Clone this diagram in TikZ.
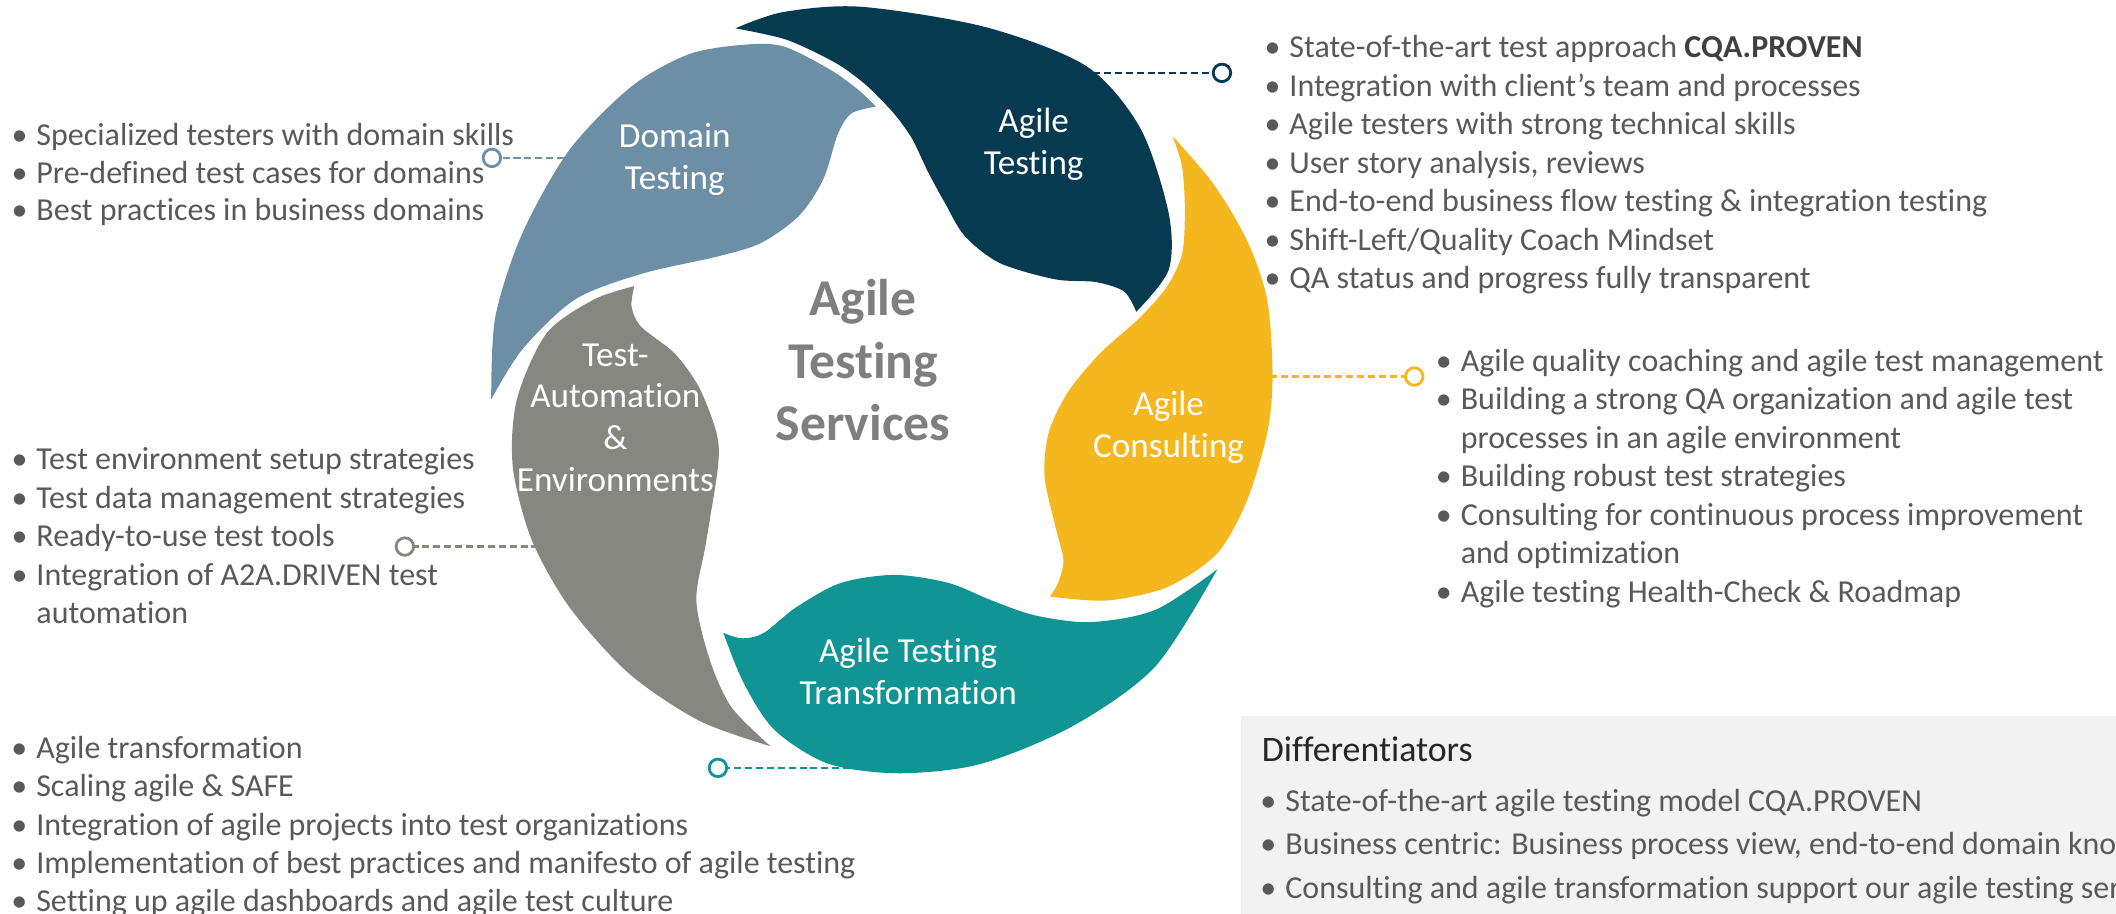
\documentclass[tikz,border=0pt]{standalone}
\usepackage{fontspec}
\setmainfont[Ligatures=NoCommon]{Carlito}
\definecolor{navyc}{HTML}{053A51}
\definecolor{bluec}{HTML}{6C8FA5}
\definecolor{grayc}{HTML}{868780}
\definecolor{yellowc}{HTML}{F5B71E}
\definecolor{tealc}{HTML}{109494}
\definecolor{txt}{HTML}{595959}
\definecolor{midgray}{HTML}{7F7F7F}
\definecolor{boxgray}{HTML}{F2F2F2}
\newcommand\bul{\llap{\textbullet\hspace{0.9mm}}}

\begin{document}
\begin{tikzpicture}[x=0.13495mm,y=-0.13495mm,
    leaf/.style={text=white,align=center,font=\fontsize{10}{11.9}\selectfont},
    list/.style={anchor=base west,inner sep=0,align=left,text=txt,font=\fontsize{9.1}{10.95}\selectfont},
    dot/.style={circle,draw,fill=white,line width=0.8pt,minimum size=1.75mm,inner sep=0},
    link/.style={line width=0.7pt,dash pattern=on 2pt off 1.1pt}]
    \useasboundingbox (0,0) rectangle (1568,677);
    \clip (0,0) rectangle (1568,677);

    % the five leaves
    \fill[navyc] plot[smooth] coordinates {(545,21) (580,9) (638,5) (730,20) (805,49) (845,95) (866,158) (866,200) (842,231)}
      -- plot[smooth] coordinates {(842,231) (833,216) (812,209) (782,207) (741,195) (715,175) (700,150) (688,128) (676,103) (664,86) (654,75) (640,61.5) (619,46.5) (583,29.5) (545,21)} -- cycle;
    \fill[bluec] plot[smooth] coordinates {(649,79) (636,66.5) (615,51.5) (581,34.5) (553,33) (511,40) (468,64) (422,111) (387,173) (367,235) (364,296)}
      -- plot[smooth] coordinates {(364,296) (387,259) (426,222) (475,203) (532,190) (564,180) (592,160) (610,133) (621,99) (631,84) (649,79)} -- cycle;
    \fill[grayc] plot[smooth] coordinates {(470,212) (440,222) (405,247) (383,296) (380,346) (394,400) (422,450) (466,499) (518,534) (571,553)}
      -- plot[smooth] coordinates {(571,553) (542,524) (526,489) (516,445) (523,403) (532,346) (531,321) (518,287) (500,262) (475,242) (468,227) (470,212)} -- cycle;
    \fill[tealc] plot[smooth] coordinates {(536,469) (550,473) (566,469) (590,450) (623,432) (663,426) (703,432) (735,445) (767,456) (808,461) (856,452) (902,422)}
      -- plot[smooth] coordinates {(902,422) (856,494) (795,538) (727,566) (667,573) (614,566) (574,541) (551,506) (536,469)} -- cycle;
    \fill[yellowc] plot[smooth] coordinates {(869,101) (899,136) (924,178) (939,222) (943,279) (939,321) (924,371) (902,410) (865,435) (820,445) (778,442)}
      -- plot[smooth] coordinates {(778,442) (784,432) (788,415) (782,390) (774,353) (777,321) (791,291) (815,262) (845,235) (865,212) (876,188) (878,156) (876,124) (869,101)} -- cycle;

    \node[leaf] (domain) at (500,118) {Domain\\Testing};
    \node[leaf] (agiletesting) at (766,107) {Agile\\Testing};
    \node[leaf] (consulting) at (866,316.5) {Agile\\Consulting};
    \node[leaf] (transformation) at (673,497.5) {Agile Testing\\Transformation};
    \node[leaf] (automation) at (456,309.5) {Test-\\Automation\\\&\\Environments};
    \node[text=midgray,align=center,font=\bfseries\fontsize{14.7}{17.8}\selectfont] (services) at (639.5,267) {Agile\\Testing\\Services};

    % connectors
    \coordinate (navyedge) at (810,54);
    \coordinate (blueedge) at (418,117);
    \coordinate (grayedge) at (399,405);
    \coordinate (yellowedge) at (941,279);
    \coordinate (tealedge) at (630,569);
    \node[dot,draw=navyc] (navydot) at (905.5,54) {};
    \node[dot,draw=bluec] (bluedot) at (364.5,117) {};
    \node[dot,draw=grayc] (graydot) at (300,405) {};
    \node[dot,draw=yellowc] (yellowdot) at (1048,279) {};
    \node[dot,draw=tealc] (tealdot) at (532,569) {};
    \draw[link,navyc] (navyedge) -- (navydot);
    \draw[link,bluec] (blueedge) -- (bluedot);
    \draw[link,grayc] (grayedge) -- (graydot);
    \draw[link,yellowc] (yellowedge) -- (yellowdot);
    \draw[link,tealc] (tealedge) -- (tealdot);

    % lists (base = last line)
    \node[list,font=\fontsize{9.1}{10.7}\selectfont] (domainlist) at (26.5,163.5) {\bul Specialized testers with domain skills\\ \bul Pre-defined test cases for domains\\ \bul Best practices in business domains};
    \node[list] (automationlist) at (26.5,462.3) {\bul Test environment setup strategies\\ \bul Test data management strategies\\ \bul Ready-to-use test tools\\ \bul Integration of A2A.DRIVEN test\\ automation};
    \node[list] (transformationlist) at (26.4,675.8) {\bul Agile transformation\\ \bul Scaling agile \& SAFE\\ \bul Integration of agile projects into test organizations\\ \bul Implementation of best practices and manifesto of agile testing\\ \bul Setting up agile dashboards and agile test culture};
    \node[list] (testinglist) at (955,213.8) {\bul State-of-the-art test approach \textbf{\color{black!75}CQA.PROVEN}\\ \bul Integration with client’s team and processes\\ \bul Agile testers with strong technical skills\\ \bul User story analysis, reviews\\ \bul End-to-end business flow testing \& integration testing\\ \bul Shift-Left/Quality Coach Mindset\\ \bul QA status and progress fully transparent};
    \node[list] (consultinglist) at (1082,446.3) {\bul Agile quality coaching and agile test management\\ \bul Building a strong QA organization and agile test\\ processes in an agile environment\\ \bul Building robust test strategies\\ \bul Consulting for continuous process improvement\\ and optimization\\ \bul Agile testing Health-Check \& Roadmap};

    % differentiators
    \fill[boxgray] (919.6,530.6) rectangle (1568,677);
    \node[anchor=base west,inner sep=0,text=black!85,font=\fontsize{10.2}{12}\selectfont] (difftitle) at (934.6,564.2) {Differentiators};
    \node[list,font=\fontsize{9.1}{12.4}\selectfont] (difflist) at (952,665.8) {\bul State-of-the-art agile testing model CQA.PROVEN\\ \bul Business centric: Business process view, end-to-end domain kno\\ \bul Consulting and agile transformation support our agile testing ser};
\end{tikzpicture}
\end{document}
